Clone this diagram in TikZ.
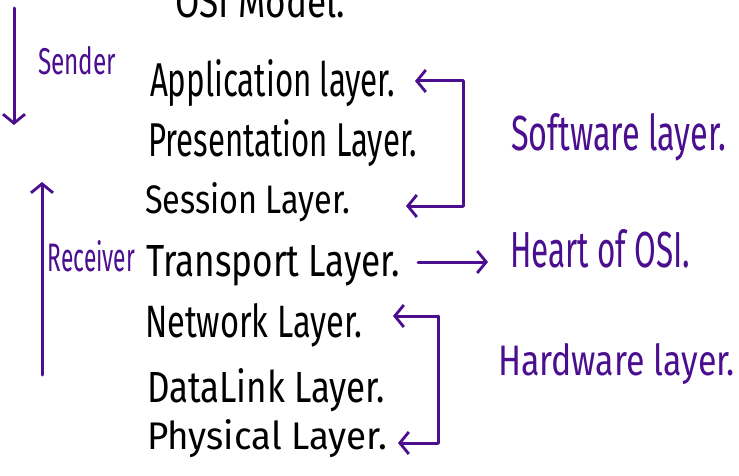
\documentclass[tikz,border=0pt]{standalone}
\usepackage{fontspec}
\setmainfont{Fira Sans}
\usepackage{graphicx}
\usetikzlibrary{arrows.meta}
\definecolor{ink}{HTML}{4A0E8F}
% text fitted to a given width and height (pt)
\newcommand\fitted[3]{\resizebox{#1pt}{#2pt}{#3}}
\tikzset{
  lbl/.style={anchor=base west, inner sep=0pt, outer sep=0pt},
  layer/.style={lbl, text=black},
  note/.style={lbl, text=ink},
  pen/.style={draw=ink, line width=3pt, line cap=round, line join=round},
  arr/.style={pen, -{Straight Barb[length=9pt,width=22pt,line width=2.8pt]}}
}
\begin{document}
\begin{tikzpicture}[x=1pt,y=-1pt]
\useasboundingbox (0,0) rectangle (739,476);
\clip (0,0) rectangle (739,476);
\fill[white] (0,0) rectangle (739,476);

% title and layer names
\node[layer] (title) at (175,18) {\fitted{170}{33}{OSI Model.}};
\node[layer] (app)   at (150,97)  {\fitted{245}{37}{Application layer.}};
\node[layer] (pres)  at (148,157) {\fitted{269}{37}{Presentation Layer.}};
\node[layer] (sess)  at (145,213) {\fitted{205}{31}{Session Layer.}};
\node[layer] (trans) at (146,276) {\fitted{254}{31}{Transport Layer.}};
\node[layer] (net)   at (145,337) {\fitted{217}{34}{Network Layer.}};
\node[layer] (dll)   at (147,402) {\fitted{238}{34}{DataLink Layer.}};
\node[layer] (phys)  at (147,449) {\fitted{240}{30}{Physical Layer.}};

% side notes
\node[note] (sender)   at (38,75)   {\fitted{78}{28}{Sender}};
\node[note] (receiver) at (48,271)  {\fitted{87}{31}{Receiver}};
\node[note] (soft)     at (511,150) {\fitted{215}{37}{Software layer.}};
\node[note] (heart)    at (510,267) {\fitted{180}{38}{Heart of OSI.}};
\node[note] (hard)     at (498,375) {\fitted{237}{32}{Hardware layer.}};

% direction of travel
\coordinate (sTop) at (14,8);
\coordinate (sBot) at (14,125);
\coordinate (rBot) at (42,375);
\coordinate (rTop) at (42,182);
\draw[arr] (sTop) -- (sBot);
\draw[arr] (rBot) -- (rTop);

% software bracket
\coordinate (swTip1) at (415,81);
\coordinate (swTip2) at (406,206);
\draw[arr] (463,81) -- (swTip1);
\draw[pen] (463,81) -- (463,206);
\draw[arr] (463,206) -- (swTip2);

% transport arrow
\coordinate (trTail) at (418,262);
\coordinate (trHead) at (488,262);
\draw[arr] (trTail) -- (trHead);

% hardware bracket
\coordinate (hwTip1) at (393,316);
\coordinate (hwTip2) at (398,443);
\draw[arr] (438,316) -- (hwTip1);
\draw[pen] (438,316) -- (438,443);
\draw[arr] (438,443) -- (hwTip2);
\end{tikzpicture}
\end{document}
